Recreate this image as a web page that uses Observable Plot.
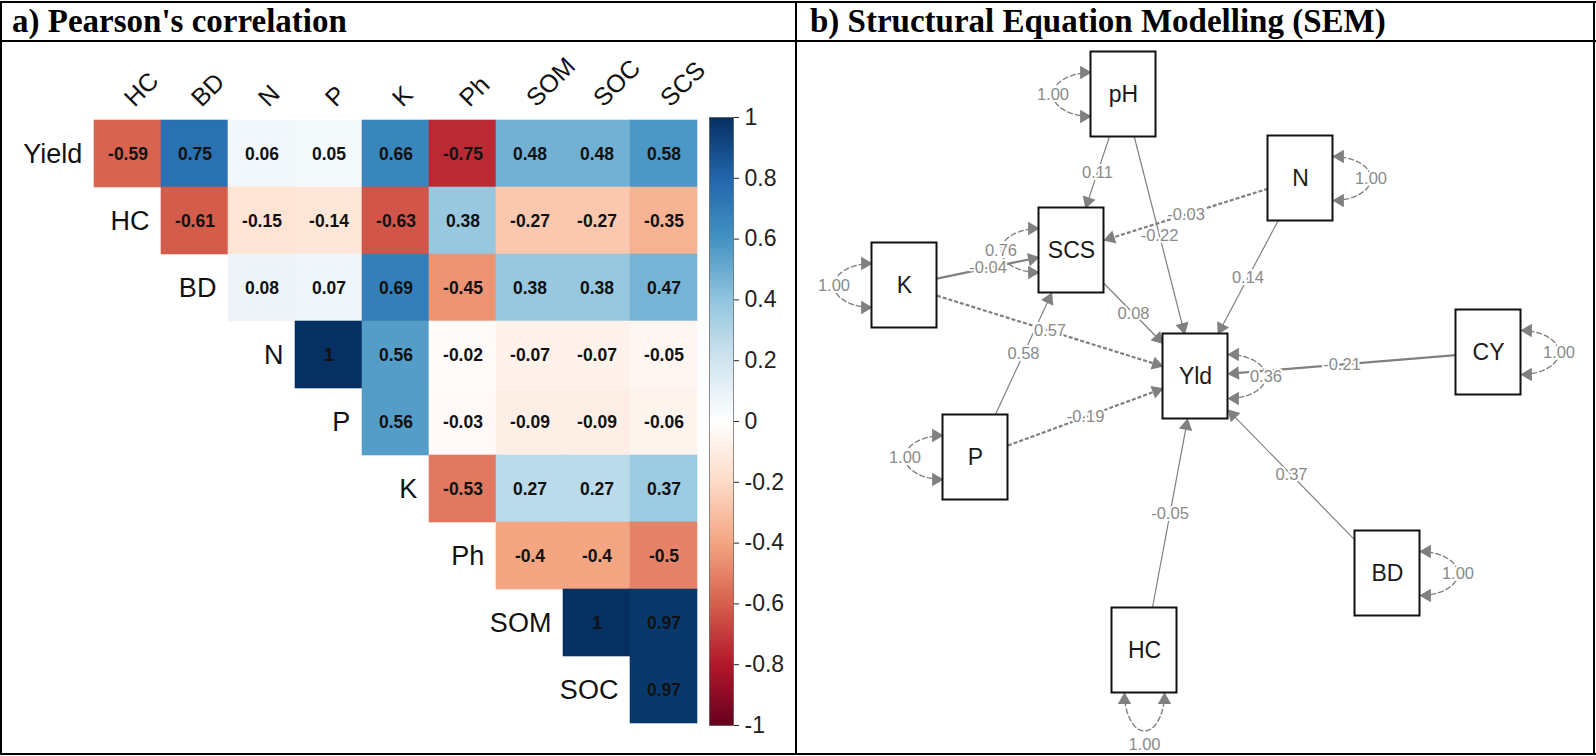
<!DOCTYPE html>
<html><head><meta charset="utf-8">
<script src="https://cdn.jsdelivr.net/npm/d3@7"></script>
<script src="https://cdn.jsdelivr.net/npm/@observablehq/plot@0.6"></script>
<style>
html,body{margin:0;padding:0;background:#fff;}
body{width:1596px;height:756px;position:relative;overflow:hidden;font-family:"Liberation Sans",Arial,sans-serif;}
.ln{position:absolute;background:#000;}
.title{position:absolute;top:1px;height:40px;line-height:40px;font-family:"Liberation Serif","Times New Roman",serif;font-weight:bold;font-size:33px;color:#000;white-space:nowrap;}
.pane{position:absolute;}
</style></head><body>
<div class="ln" style="left:0;top:1px;width:1596px;height:2px"></div>
<div class="ln" style="left:0;top:40px;width:1596px;height:2px"></div>
<div class="ln" style="left:0;top:753px;width:1596px;height:2px"></div>
<div class="ln" style="left:0;top:1px;width:2px;height:754px"></div>
<div class="ln" style="left:795px;top:1px;width:2px;height:754px"></div>
<div class="ln" style="left:1593px;top:1px;width:2px;height:754px"></div>
<div class="title" style="left:12px">a) Pearson's correlation</div>
<div class="title" style="left:810px">b) Structural Equation Modelling (SEM)</div>
<div id="heat" class="pane" style="left:0;top:42px"></div>
<div id="bar" class="pane" style="left:700px;top:42px"></div>
<div id="sem" class="pane" style="left:797px;top:42px"></div>
<script>
// ---------- a) Pearson's correlation (upper triangle) ----------
const rows = ["Yield", "HC", "BD", "N", "P", "K", "Ph", "SOM", "SOC"];
const cols = ["HC", "BD", "N", "P", "K", "Ph", "SOM", "SOC", "SCS"];
const rYield = [-0.59, 0.75, 0.06, 0.05, 0.66, -0.75, 0.48, 0.48, 0.58];
const rHC    = [-0.61, -0.15, -0.14, -0.63, 0.38, -0.27, -0.27, -0.35];
const rBD    = [0.08, 0.07, 0.69, -0.45, 0.38, 0.38, 0.47];
const rN     = [1, 0.56, -0.02, -0.07, -0.07, -0.05];
const rP     = [0.56, -0.03, -0.09, -0.09, -0.06];
const rK     = [-0.53, 0.27, 0.27, 0.37];
const rPh    = [-0.4, -0.4, -0.5];
const rSOM   = [1, 0.97];
const rSOC   = [0.97];
const barTicks = [-1, -0.8, -0.6, -0.4, -0.2, 0, 0.2, 0.4, 0.6, 0.8, 1];
const paletteStops = [-1, -0.8, -0.6, -0.4, -0.2, 0, 0.2, 0.4, 0.6, 0.8, 1];
const paletteColors = ["#67001F", "#B2182B", "#D6604D", "#F4A582", "#FDDBC7", "#FFFFFF",
                       "#D1E5F0", "#92C5DE", "#4393C3", "#2166AC", "#053061"];

// ---------- b) SEM ----------
const semNodes = ["pH", "N", "SCS", "K", "Yld", "CY", "P", "BD", "HC"];
const semX = [1123, 1300, 1071, 904, 1195, 1488, 975, 1387, 1144];   // layout (page px)
const semY = [94, 178, 250, 285, 376, 352, 457, 573, 650];
const edgeFrom = ["pH", "pH", "N", "N", "K", "K", "SCS", "P", "P", "CY", "BD", "HC"];
const edgeTo   = ["SCS", "Yld", "SCS", "Yld", "SCS", "Yld", "Yld", "SCS", "Yld", "Yld", "Yld", "Yld"];
const edgeEst  = ["0.11", "-0.22", "-0.03", "0.14", "-0.04", "0.57", "0.08", "0.58", "-0.19", "-0.21", "0.37", "-0.05"];
const residNode = ["pH", "N", "SCS", "K", "Yld", "CY", "P", "BD", "HC"];
const residEst  = ["1.00", "1.00", "0.76", "1.00", "0.36", "1.00", "1.00", "1.00", "1.00"];
const residSide = ["left", "right", "left", "left", "right", "right", "left", "right", "bottom"];

// ===== build heatmap =====
const rowValues = [rYield, rHC, rBD, rN, rP, rK, rPh, rSOM, rSOC];
const cells = rows.flatMap((r, i) => rowValues[i].map((v, j) => ({row: r, col: cols[i + j], value: v})));
const color = {type: "linear", domain: paletteStops, range: paletteColors};
const HW = 700, HH = 712, ML = 93, MR = 2, MT = 75, MB = 29;
const cw = (HW - ML - MR) / cols.length;
const font = "'Liberation Sans', Arial, sans-serif";

const heat = Plot.plot({
  width: HW, height: HH, marginLeft: ML, marginRight: MR, marginTop: MT, marginBottom: MB,
  x: {domain: cols, axis: null, padding: 0},
  y: {domain: rows, axis: null, padding: 0},
  color,
  style: {background: "transparent", overflow: "visible", fontFamily: font, maxWidth: "none"},
  marks: [
    Plot.cell(cells, {x: "col", y: "row", fill: "value", stroke: "value", strokeWidth: 0.6, inset: 0}),
    Plot.text(cells, {x: "col", y: "row", text: d => String(d.value), fontWeight: "bold", fontSize: 17.5, fill: "#111"}),
    Plot.text(rows, {x: (d, i) => cols[i], y: d => d, dx: -(cw / 2 + 12), textAnchor: "end", fontSize: 27, fill: "#111"}),
    Plot.text(cols, {x: d => d, frameAnchor: "top", dx: -6, dy: -22, rotate: -45, textAnchor: "start", fontSize: 25, fill: "#111"})
  ]
});
document.getElementById("heat").append(heat);

const bar = Plot.plot({
  width: 96, height: HH, marginLeft: 9, marginRight: 63, marginTop: MT, marginBottom: MB,
  x: {domain: [0, 1], axis: null},
  y: {domain: [-1, 1], axis: "right", ticks: barTicks, tickSize: 5, tickPadding: 6,
      tickFormat: d => String(+d.toFixed(1)), label: null},
  color,
  style: {background: "transparent", overflow: "visible", fontFamily: font, fontSize: "23px", color: "#222", maxWidth: "none"},
  marks: [
    Plot.raster({x1: 0, x2: 1, y1: -1, y2: 1, width: 1, height: 400, fill: (x, y) => y}),
    Plot.frame({stroke: "#444", strokeWidth: 0.6})
  ]
});
document.getElementById("bar").append(bar);

// ===== build SEM =====
const BW = 65, BH = 85, A = 38, HALF = 22;
const nodes = semNodes.map((id, i) => ({id, x: semX[i], y: semY[i]}));
const byId = new Map(nodes.map(d => [d.id, d]));
const thick = new Set(["K-SCS", "N-SCS", "K-Yld", "P-Yld", "CY-Yld"]);
const dashedEdge = new Set(["N-SCS", "K-Yld", "P-Yld"]);
const edges = edgeFrom.map((f, i) => {
  const a = byId.get(f), b = byId.get(edgeTo[i]);
  const dx = b.x - a.x, dy = b.y - a.y, L = Math.hypot(dx, dy);
  const t = Math.min(BW / 2 / Math.abs(dx || 1e-9), BH / 2 / Math.abs(dy || 1e-9));
  const ux = dx / L, uy = dy / L;
  const tx = b.x - t * dx, ty = b.y - t * dy;
  const key = f + "-" + edgeTo[i];
  return {key, label: edgeEst[i], x1: a.x + t * dx, y1: a.y + t * dy, x2: tx - ux * 8, y2: ty - uy * 8,
          hx: tx - ux * 7, hy: ty - uy * 7, rot: Math.atan2(ux, -uy) * 180 / Math.PI,
          mx: (a.x + b.x) / 2, my: (a.y + b.y) / 2};
});
const loopPts = [], loopHeads = [], loopLabels = [];
residNode.forEach((id, i) => {
  const n = byId.get(id), side = residSide[i];
  const N = 30;
  for (let k = 0; k <= N; k++) {
    const th = Math.PI * k / N;
    if (side === "left") loopPts.push({id, x: n.x - BW / 2 - A * Math.sin(th), y: n.y - HALF * Math.cos(th)});
    else if (side === "right") loopPts.push({id, x: n.x + BW / 2 + A * Math.sin(th), y: n.y - HALF * Math.cos(th)});
    else loopPts.push({id, x: n.x - 20 * Math.cos(th), y: n.y + BH / 2 + A * Math.sin(th)});
  }
  if (side === "left") {
    const e = n.x - BW / 2;
    loopHeads.push({x: e - 7, y: n.y - HALF, rot: 90}, {x: e - 7, y: n.y + HALF, rot: 90});
    loopLabels.push({x: e - A, y: n.y, label: residEst[i]});
  } else if (side === "right") {
    const e = n.x + BW / 2;
    loopHeads.push({x: e + 7, y: n.y - HALF, rot: -90}, {x: e + 7, y: n.y + HALF, rot: -90});
    loopLabels.push({x: e + A, y: n.y, label: residEst[i]});
  } else {
    const e = n.y + BH / 2;
    loopHeads.push({x: n.x - 20, y: e + 7, rot: 0}, {x: n.x + 20, y: e + 7, rot: 0});
    loopLabels.push({x: n.x, y: e + A + 14, label: residEst[i]});
  }
});
const GREY = "#808080";
const sem = Plot.plot({
  width: 797, height: 712, marginLeft: 0, marginRight: 0, marginTop: 0, marginBottom: 0,
  x: {domain: [797, 1594], range: [0, 797], axis: null},
  y: {domain: [42, 754], range: [0, 712], axis: null},
  style: {background: "transparent", overflow: "visible", fontFamily: font, maxWidth: "none"},
  marks: [
    Plot.line(loopPts, {x: "x", y: "y", z: "id", stroke: GREY, strokeWidth: 1.4, strokeDasharray: "5,3", curve: "linear"}),
    Plot.link(edges.filter(d => !dashedEdge.has(d.key)), {x1: "x1", y1: "y1", x2: "x2", y2: "y2", stroke: GREY,
      strokeWidth: d => thick.has(d.key) ? 2.2 : 1.2}),
    Plot.link(edges.filter(d => dashedEdge.has(d.key)), {x1: "x1", y1: "y1", x2: "x2", y2: "y2", stroke: GREY,
      strokeWidth: 2.2, strokeDasharray: "4,2"}),
    Plot.dot(edges, {x: "hx", y: "hy", symbol: "triangle", r: 5, fill: GREY, stroke: null, rotate: "rot"}),
    Plot.dot(loopHeads, {x: "x", y: "y", symbol: "triangle", r: 5, fill: GREY, stroke: null, rotate: "rot"}),
    Plot.rect(nodes, {x1: d => d.x - BW / 2, x2: d => d.x + BW / 2, y1: d => d.y - BH / 2, y2: d => d.y + BH / 2,
      fill: "white", stroke: "#111", strokeWidth: 2}),
    Plot.text(nodes, {x: "x", y: "y", text: "id", fontSize: 23, fill: "#1a1a1a"}),
    Plot.text(edges, {x: "mx", y: "my", text: "label", fontSize: 16.5, fill: "#8a8a8a", stroke: "white", strokeWidth: 4}),
    Plot.text(loopLabels, {x: "x", y: "y", text: "label", fontSize: 16.5, fill: "#8a8a8a", stroke: "white", strokeWidth: 4})
  ]
});
document.getElementById("sem").append(sem);
</script>
</body></html>
